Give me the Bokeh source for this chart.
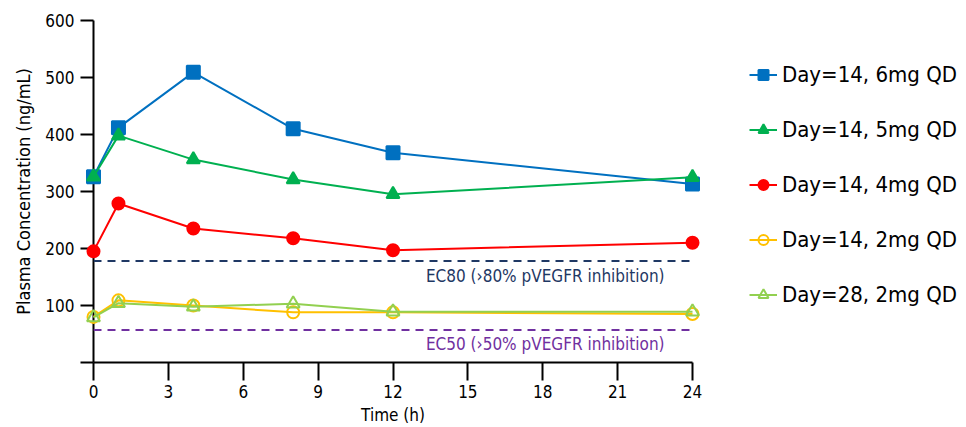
from bokeh.plotting import figure
from bokeh.layouts import row
from bokeh.models import Range1d, FixedTicker, Span, Legend, LegendItem, ColumnDataSource
from bokeh.core.properties import value
from bokeh.embed import file_html
from bokeh.resources import INLINE

FONT = "DejaVu Sans Condensed"

times = [0, 1, 4, 8, 12, 24]
day14_6mg = [326, 412, 509, 410, 368, 313]
day14_5mg = [326, 398, 356, 321, 295, 325]
day14_4mg = [195, 279, 235, 218, 197, 210]
day14_2mg = [80, 109, 100, 88, 88, 85]
day28_2mg = [79, 104, 98, 103, 89, 89]

ec80 = 178
ec50 = 57
ec80_label = "EC80 (\u203a80% pVEGFR inhibition)"
ec50_label = "EC50 (\u203a50% pVEGFR inhibition)"

x_ticks = [0, 3, 6, 9, 12, 15, 18, 21, 24]
y_ticks = [0, 100, 200, 300, 400, 500, 600]

series = [
    ("Day=14, 6mg QD", day14_6mg, "#0070c0", "square", True),
    ("Day=14, 5mg QD", day14_5mg, "#00b050", "triangle", True),
    ("Day=14, 4mg QD", day14_4mg, "#ff0000", "circle", True),
    ("Day=14, 2mg QD", day14_2mg, "#ffc000", "circle", False),
    ("Day=28, 2mg QD", day28_2mg, "#92d050", "triangle", False),
]

p = figure(width=710, height=427, output_backend="svg", toolbar_location=None,
           x_range=Range1d(0, 24), y_range=Range1d(0, 600),
           min_border_left=93, min_border_right=18, min_border_top=20, min_border_bottom=65)
p.outline_line_color = None
p.xgrid.visible = False
p.ygrid.visible = False

for ax in (p.xaxis[0], p.yaxis[0]):
    ax.axis_line_width = 2
    ax.axis_line_color = "black"
    ax.major_tick_line_width = 2
    ax.major_tick_line_color = "black"
    ax.minor_tick_line_color = None
    ax.major_tick_in = 0
    ax.major_label_text_font = FONT
    ax.major_label_text_font_size = "17px"
    ax.major_label_text_color = "black"
    ax.axis_label_text_font = FONT
    ax.axis_label_text_font_style = "normal"
    ax.axis_label_text_color = "black"

p.xaxis.ticker = FixedTicker(ticks=x_ticks)
p.yaxis.ticker = FixedTicker(ticks=y_ticks)
p.yaxis.major_label_overrides = {0: ""}
p.xaxis.major_tick_out = 18
p.yaxis.major_tick_out = 13
p.xaxis.major_label_standoff = 4
p.yaxis.major_label_standoff = 6
p.xaxis.axis_label = "Time (h)"
p.yaxis.axis_label = "Plasma Concentration (ng/mL)"
p.xaxis.axis_label_text_font_size = "17px"
p.yaxis.axis_label_text_font_size = "18px"
p.xaxis.axis_label_standoff = 4
p.yaxis.axis_label_standoff = 8

p.add_layout(Span(location=ec80, dimension="width", line_color="#1f3864",
                  line_dash="8 6", line_width=2))
p.add_layout(Span(location=ec50, dimension="width", line_color="#7030a0",
                  line_dash="8 6", line_width=2))

lsrc = ColumnDataSource(dict(x=[18.1, 18.1], y=[152, 33], t=[ec80_label, ec50_label],
                             c=["#1f3864", "#7030a0"]))
p.text(x="x", y="y", text="t", text_color="c", source=lsrc, text_align="center",
       text_baseline="middle", text_font=value(FONT), text_font_size="17px")

# legend lives in its own figure, to the right of the plot (its data lies outside its ranges)
lg = figure(width=256, height=427, output_backend="svg", toolbar_location=None,
            x_axis_type=None, y_axis_type=None, x_range=Range1d(1000, 1001),
            y_range=Range1d(5000, 5001),
            min_border_left=0, min_border_right=0, min_border_top=0, min_border_bottom=0)
lg.outline_line_color = None
lg.xgrid.visible = False
lg.ygrid.visible = False

items = []
for name, vals, color, marker, filled in series:
    src = ColumnDataSource(dict(x=times, y=vals))
    size = 13 if marker != "circle" else 12
    fill = color if filled else None
    r1 = p.line("x", "y", source=src, line_color=color, line_width=2)
    r2 = p.scatter("x", "y", source=src, marker=marker, size=size,
                   line_color=color, line_width=2, fill_color=fill)
    r1.level = "overlay"
    r2.level = "overlay"
    l1 = lg.line("x", "y", source=src, line_color=color, line_width=2)
    l2 = lg.scatter("x", "y", source=src, marker=marker, size=10,
                    line_color=color, line_width=2, fill_color=fill)
    items.append(LegendItem(label=name, renderers=[l1, l2]))

legend = Legend(items=items, location=(39, 55), padding=0, margin=0, spacing=30,
                glyph_width=28, glyph_height=25, label_height=25, label_standoff=5,
                label_text_font=FONT, label_text_font_size="22px", label_text_color="black",
                border_line_color=None, background_fill_color=None)
lg.add_layout(legend, "center")

layout = row(p, lg, spacing=0)
open("out.html", "w").write(file_html(layout, INLINE))
